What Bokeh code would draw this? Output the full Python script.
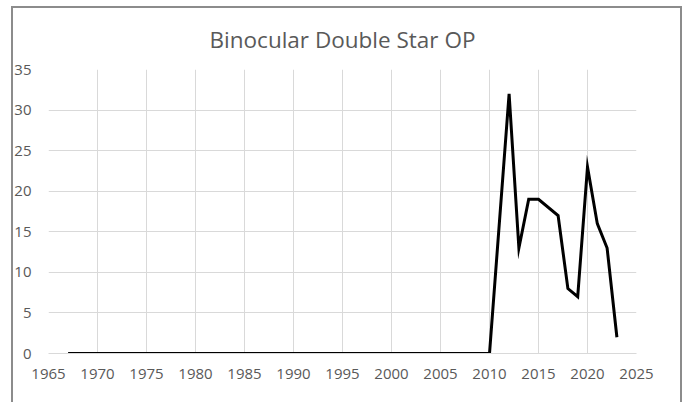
from bokeh.plotting import figure
from bokeh.models import Range1d, SingleIntervalTicker, InlineStyleSheet
from bokeh.embed import file_html
from bokeh.resources import INLINE

years = [1967, 2010, 2012, 2013, 2014, 2015, 2017, 2018, 2019, 2020, 2021, 2022, 2023]
counts = [0, 0, 32, 13, 19, 19, 17, 8, 7, 23, 16, 13, 2]
title_text = "Binocular Double Star OP"

p = figure(width=686, height=402, output_backend="svg", toolbar_location=None,
           x_range=Range1d(1965, 2025), y_range=Range1d(0, 35),
           min_border_left=48, min_border_right=50, min_border_top=69, min_border_bottom=49,
           title=title_text)
p.title.align = "center"
p.title.text_font = "Open Sans"
p.title.text_font_style = "normal"
p.title.text_font_size = "22.5px"
p.title.text_color = "#595959"
p.title.standoff = 30
p.outline_line_color = None

p.line(years, counts, line_color="black", line_width=3, line_join="miter")

p.xaxis.ticker = SingleIntervalTicker(interval=5)
p.yaxis.ticker = SingleIntervalTicker(interval=5)
for ax in (p.xaxis, p.yaxis):
    ax.major_tick_line_color = None
    ax.minor_tick_line_color = None
    ax.major_label_text_font = "Open Sans"
    ax.major_label_text_font_size = "15px"
    ax.major_label_text_color = "#595959"
p.yaxis.axis_line_color = None
p.yaxis.major_label_standoff = 11
p.xaxis.axis_line_color = "#d9d9d9"
p.xaxis.major_label_standoff = 9
p.xgrid.ticker = SingleIntervalTicker(interval=5)
p.ygrid.ticker = SingleIntervalTicker(interval=5)
p.grid.grid_line_color = "#d9d9d9"
p.grid.grid_line_width = 1

frame_css = InlineStyleSheet(css="""
:host { position: relative; }
:host::after {
  content: "";
  position: absolute;
  left: 11px; top: 6px; width: 671px; height: 420px;
  border: 2px solid #8c8c8c;
  box-sizing: border-box;
  pointer-events: none;
}
""")
p.stylesheets = [frame_css]

open("out.html", "w").write(file_html(p, INLINE))
